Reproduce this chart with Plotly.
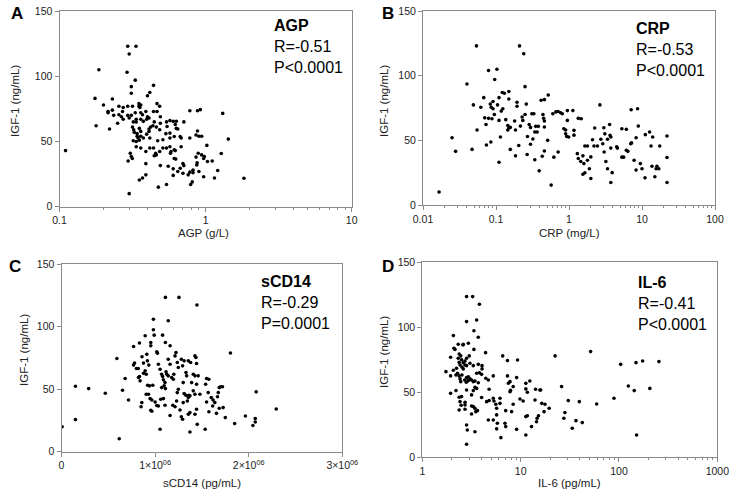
import plotly.graph_objects as go

W, H = 732, 496

# (AGP g/L, IGF-1 ng/mL)
agp_pts = [
    (0.11, 43), (0.186, 105), (0.293, 123), (0.334, 123), (0.30, 117), (0.29, 103), (0.33, 97), (0.31, 92),
    (0.31, 87), (0.44, 93), (0.415, 87.5), (0.40, 85), (0.175, 83), (0.23, 82.5), (0.20, 78), (0.23, 74),
    (0.255, 77), (0.273, 76), (0.293, 77), (0.316, 77), (0.35, 79), (0.36, 78), (0.35, 77), (0.355, 76),
    (0.465, 79), (0.485, 77), (0.215, 73), (0.215, 72), (0.235, 70), (0.255, 70.5), (0.27, 73), (0.265, 69),
    (0.273, 67), (0.293, 70), (0.31, 70), (0.30, 68), (0.33, 72), (0.335, 67), (0.36, 72), (0.37, 70.5),
    (0.39, 73), (0.40, 69), (0.44, 73), (0.465, 73), (0.395, 67), (0.41, 68), (0.49, 69), (0.57, 66),
    (0.63, 65.5), (0.78, 73.5), (0.88, 73.5), (0.92, 74.4), (1.31, 71.5), (0.178, 62), (0.22, 59.5), (0.25, 64),
    (0.32, 65), (0.335, 65), (0.36, 67), (0.375, 65.4), (0.316, 61), (0.322, 59), (0.325, 57), (0.352, 60),
    (0.36, 57.7), (0.34, 56), (0.41, 59.5), (0.41, 57.7), (0.42, 61), (0.436, 62), (0.46, 61), (0.485, 59),
    (0.445, 65), (0.49, 64), (0.54, 65), (0.545, 61.5), (0.60, 65.4), (0.63, 60), (0.645, 59.5), (0.62, 63),
    (0.71, 65), (0.34, 54), (0.345, 52.6), (0.36, 54), (0.375, 52.6), (0.395, 55.6), (0.32, 50.5), (0.335, 50),
    (0.352, 51), (0.415, 52.6), (0.47, 50.5), (0.51, 51.3), (0.535, 56), (0.57, 56.4), (0.57, 52.6), (0.61, 53.8),
    (0.67, 53.8), (0.68, 52.6), (0.78, 52.6), (0.88, 58), (0.90, 54), (0.94, 54), (0.86, 55), (0.335, 46),
    (0.36, 45), (0.39, 42.3), (0.415, 45), (0.44, 45), (0.455, 41), (0.485, 42.3), (0.51, 45), (0.54, 45),
    (0.57, 46), (0.58, 42.3), (0.61, 43.6), (0.68, 46), (0.575, 41), (0.62, 43), (0.445, 39), (0.46, 39.7),
    (0.305, 41), (0.31, 38.5), (0.315, 37), (0.295, 35), (0.61, 37), (0.625, 36.5), (0.39, 33), (0.49, 31.5),
    (0.555, 31), (0.60, 29), (0.70, 33), (0.71, 31.5), (0.70, 25.6), (0.76, 24.4), (0.78, 26.5), (0.60, 24),
    (0.645, 27), (0.67, 29.5), (0.86, 38), (0.89, 41), (0.94, 39.7), (0.98, 38.5), (1.02, 47), (0.97, 37),
    (0.875, 33.6), (0.87, 32), (0.82, 28), (0.82, 26), (0.90, 27), (0.97, 23), (1.03, 34.6), (1.11, 35),
    (1.15, 22), (1.21, 27.7), (1.28, 40.8), (1.43, 51.8), (1.83, 21.8), (0.352, 20.5), (0.37, 22), (0.39, 24.4),
    (0.475, 15), (0.54, 17), (0.79, 17), (0.81, 19), (0.30, 10),
]

# (CRP mg/L, IGF-1 ng/mL)
crp_pts = [
    (0.0166, 10), (0.025, 52), (0.028, 41.5), (0.04, 93.6), (0.047, 43), (0.049, 77.4), (0.055, 58), (0.054, 123),
    (0.062, 75.6), (0.068, 83), (0.07, 67.4), (0.073, 62.3), (0.074, 46.4), (0.079, 67), (0.079, 104), (0.0836, 78),
    (0.086, 75.6), (0.091, 80), (0.085, 48.7), (0.088, 66.7), (0.091, 74.4), (0.095, 70), (0.096, 97), (0.103, 105),
    (0.105, 77.4), (0.11, 83), (0.11, 65.4), (0.115, 52.6), (0.11, 33), (0.118, 72.6), (0.124, 74.4), (0.122, 87),
    (0.13, 86.4), (0.136, 66), (0.145, 61.5), (0.15, 59.5), (0.15, 82), (0.15, 87.7), (0.145, 58), (0.157, 60),
    (0.157, 43), (0.18, 65), (0.185, 58), (0.194, 79.5), (0.194, 76.4), (0.185, 38), (0.205, 46), (0.21, 123),
    (0.228, 68), (0.233, 65.4), (0.216, 61), (0.24, 117), (0.25, 91.5), (0.25, 70), (0.26, 78), (0.267, 39),
    (0.27, 53), (0.285, 62.3), (0.297, 60), (0.31, 70.5), (0.297, 47), (0.32, 51), (0.34, 35), (0.33, 70.5),
    (0.35, 60.8), (0.366, 56.4), (0.34, 56.4), (0.38, 60.8), (0.39, 26.4), (0.415, 81), (0.44, 70), (0.45, 67),
    (0.46, 65), (0.46, 60.3), (0.46, 81.5), (0.52, 85), (0.43, 37.7), (0.46, 41.8), (0.51, 50), (0.57, 15.4),
    (0.62, 37), (0.71, 41), (0.60, 70.5), (0.66, 72), (0.71, 72.3), (0.77, 71.3), (0.81, 70.5), (0.85, 59),
    (0.90, 58), (0.95, 65.4), (0.95, 73), (0.90, 55), (0.93, 53), (0.99, 52.6), (1.13, 73), (1.17, 57.7),
    (1.17, 54), (1.34, 67), (1.47, 66.7), (1.3, 39.7), (1.34, 36), (1.45, 33.6), (1.55, 38), (1.55, 23.8),
    (1.65, 24.9), (1.6, 32), (1.79, 34.6), (1.99, 37.2), (1.65, 45.6), (1.79, 45.6), (1.9, 28), (1.99, 20.5),
    (2.1, 50.5), (2.2, 45.6), (2.25, 59.5), (2.45, 45.6), (2.65, 77.4), (2.73, 50.8), (2.9, 47.4), (3.0, 59.7),
    (3.03, 41), (3.1, 55), (3.2, 33.6), (3.37, 28), (3.37, 50.8), (3.6, 62.3), (3.65, 53.8), (3.74, 52.6),
    (3.74, 44), (3.74, 17.4), (3.9, 25), (4.5, 45), (4.6, 44), (5.3, 59), (5.3, 37), (5.6, 37),
    (6.1, 58.5), (6.1, 42.3), (6.4, 41.5), (7.0, 47.4), (7.1, 73.6), (7.2, 48), (7.8, 34.6), (8.3, 52),
    (8.3, 27), (8.7, 74.4), (8.9, 61), (9.5, 32), (10, 28), (11, 21), (11.1, 54.4), (12.7, 56.4),
    (14, 52.6), (13.3, 45.6), (13.7, 30), (15, 21.8), (15.6, 28), (16, 30), (17, 28), (17.5, 45.6),
    (22, 53.3), (22, 36.7), (22, 17.4),
]

# (sCD14 in 10^6 pg/mL, IGF-1 ng/mL)
scd14_pts = [
    (0.007, 20), (0.149, 52.4), (0.149, 25.7), (0.29, 50.5), (0.468, 46.8), (0.592, 74.6), (0.617, 10.4), (0.652, 49.2),
    (0.68, 58.6), (0.716, 41.4), (0.77, 84.2), (0.833, 87), (0.78, 70.9), (0.77, 69.3), (0.80, 66.6), (0.82, 66.6),
    (0.833, 60.2), (0.86, 76), (0.876, 70.9), (0.894, 64.7), (0.905, 62), (0.876, 62.8), (0.911, 78), (0.918, 72.7),
    (0.933, 69.3), (0.954, 87.4), (0.954, 84.8), (0.894, 92.8), (0.982, 106), (0.982, 97.6), (0.99, 93.3), (0.92, 53.2),
    (0.94, 52.7), (0.975, 53.2), (0.84, 56.7), (0.823, 59.4), (0.905, 46), (0.93, 46), (0.947, 42.5), (0.965, 41.4),
    (0.858, 39.3), (0.85, 36), (0.954, 33.2), (0.965, 32.4), (1.0, 39.8), (1.018, 37), (1.035, 36.6), (1.018, 80),
    (1.025, 78.9), (1.035, 70), (1.053, 66), (1.08, 93.3), (1.11, 123.5), (1.11, 87.4), (1.07, 62), (1.08, 60.2),
    (1.089, 57.5), (1.106, 55.3), (1.117, 63.9), (1.07, 51.3), (1.096, 52.7), (1.11, 50.5), (1.06, 42), (1.089, 42.5),
    (1.106, 37.2), (1.053, 18), (1.16, 29), (1.14, 104.8), (1.16, 84.8), (1.14, 74), (1.16, 70), (1.124, 62),
    (1.14, 60.7), (1.177, 59.4), (1.195, 58), (1.2, 62), (1.19, 37.2), (1.213, 36), (1.23, 40.6), (1.248, 50),
    (1.237, 47.3), (1.223, 79.4), (1.213, 76.7), (1.237, 71.4), (1.248, 67.4), (1.255, 123.5), (1.266, 33.4), (1.28, 28),
    (1.294, 26), (1.28, 74), (1.31, 72.7), (1.294, 68.7), (1.33, 63.4), (1.337, 60.7), (1.30, 55.3), (1.31, 46.5),
    (1.33, 45.2), (1.355, 43.3), (1.344, 40.6), (1.30, 39.3), (1.372, 15.8), (1.355, 72.7), (1.38, 71.4), (1.408, 62),
    (1.426, 76.7), (1.436, 75.4), (1.443, 70.6), (1.39, 55.3), (1.426, 60.7), (1.443, 54), (1.46, 60.7), (1.408, 48.7),
    (1.426, 46), (1.372, 44.7), (1.36, 45.2), (1.355, 30), (1.372, 31.3), (1.426, 30), (1.443, 34), (1.45, 21.9),
    (1.535, 18), (1.447, 117.4), (1.479, 46), (1.55, 58.6), (1.574, 58), (1.54, 54), (1.567, 47.3), (1.55, 39.8),
    (1.575, 32), (1.6, 43.3), (1.62, 41.4), (1.638, 39.3), (1.615, 36.6), (1.656, 30.7), (1.685, 34.8), (1.685, 51.3),
    (1.667, 44), (1.675, 47.3), (1.70, 52), (1.72, 52), (1.727, 35.3), (1.75, 27.3), (1.805, 79), (1.85, 22.5),
    (1.965, 28.6), (2.045, 21), (2.07, 26.5), (2.07, 23.8), (2.08, 47.9), (2.294, 34.2),
]

# (IL-6 pg/mL, IGF-1 ng/mL)
il6_pts = [
    (2.82, 123.6), (3.25, 123.6), (3.81, 117.7), (2.82, 104.4), (3.57, 105.6), (3.35, 97.4), (2.07, 93.6), (3.71, 92.3),
    (2.1, 83.8), (2.15, 83), (2.32, 87), (2.59, 86.4), (2.61, 87), (2.94, 87.7), (3.35, 83), (4.4, 80.5),
    (1.94, 77), (2.37, 79.5), (2.46, 78), (2.32, 76.2), (2.82, 76.2), (3.0, 78), (2.51, 75), (2.72, 74),
    (2.61, 72.8), (2.37, 73), (1.74, 65.9), (2.07, 67), (2.23, 68.5), (2.42, 71), (2.53, 69.5), (2.61, 68),
    (2.72, 71), (2.82, 70.5), (3.05, 72.3), (3.3, 70.5), (3.71, 71.5), (4.05, 70.5), (4.05, 68), (3.81, 65),
    (4.01, 63.8), (3.57, 64.6), (1.94, 62.6), (2.2, 63.3), (2.28, 64.6), (2.37, 62.6), (2.53, 63.3), (2.42, 60.3),
    (2.46, 58.2), (2.7, 59.5), (2.82, 61.3), (2.94, 62), (3.05, 60.3), (2.8, 57.7), (2.94, 59), (3.17, 59.5),
    (3.3, 58.2), (3.43, 58.7), (3.71, 57.4), (4.42, 60.8), (4.69, 59.5), (5.27, 62.6), (4.78, 52.3), (6.57, 78),
    (7.35, 74.4), (9.3, 74.9), (7.35, 62.6), (7.8, 58.2), (7.5, 57), (9.1, 61.3), (7.9, 51.5), (7.8, 50.5),
    (8.4, 54.4), (1.94, 49.2), (2.2, 51.3), (2.82, 51.8), (3.3, 51.3), (3.43, 53.8), (3.57, 53), (2.37, 46.2),
    (2.51, 46.7), (2.42, 42.8), (2.72, 42.3), (3.17, 48), (2.37, 36.4), (2.72, 37), (3.17, 39.5), (3.3, 39),
    (3.43, 37.7), (3.17, 33.3), (3.5, 35.1), (3.64, 35.9), (4.01, 46), (4.51, 42.8), (4.78, 43.6), (5.27, 45.4),
    (5.35, 43.3), (5.6, 40.8), (5.7, 37.7), (6.17, 45.4), (6.17, 41.5), (4.69, 28.7), (5.27, 28.7), (5.7, 32.6),
    (5.8, 26.2), (6.93, 26.2), (7.05, 23.6), (5.7, 21.9), (6.3, 15.1), (7.05, 35.9), (8.1, 35.1), (8.4, 40.8),
    (9.1, 21.5), (9.85, 44.9), (10.6, 43.3), (11.3, 56.9), (11.3, 52.6), (11.7, 50), (12.4, 58.7), (11.3, 31.3),
    (11.7, 32), (12.9, 23.6), (14.5, 27.4), (14.7, 30), (15.2, 32), (15.7, 51.8), (16, 51.8), (16.4, 41.5),
    (17.3, 35.1), (17.7, 40.8), (19.5, 37.7), (14.2, 52.3), (14, 44.1), (11.3, 17.2), (2.82, 24.9), (2.87, 21),
    (3.43, 19.7), (2.82, 10), (2.72, 40.3), (2.48, 40), (22.4, 78), (26.1, 54.4), (30.5, 43.6), (28.2, 34.4),
    (27.5, 30), (33.5, 22.3), (36.5, 28.2), (42.4, 26.7), (39.5, 42.8), (51.5, 81.3), (59.3, 41), (89, 45.4),
    (104, 71.5), (124.5, 54.9), (143, 51.3), (149, 72.8), (174, 74.1), (151, 17.2), (206, 53), (255, 73.6),
]

y_ticks = [0, 50, 100, 150]
scd14_ticks = [0, 1e6, 2e6, 3e6]
scd14_ticktext = ["0", "1×10<sup>06</sup>", "2×10<sup>06</sup>", "3×10<sup>06</sup>"]

GREY = "#8a8a8a"
FONT = "Liberation Sans, Arial, sans-serif"


# page pixel -> paper fraction
def px(x):
    return x / W


def py(y):
    return 1 - y / H


def minor_vals(lo, hi):
    return [m * 10 ** e for e in range(lo, hi) for m in range(2, 10)]


def log_ticks(lo, hi):
    vals = [10 ** e for e in range(lo, hi + 1)]
    text = [("%g" % v) for v in vals]
    return vals, text


fig = go.Figure()
for i, pts in enumerate([agp_pts, crp_pts, [(x * 1e6, y) for x, y in scd14_pts], il6_pts]):
    sfx = "" if i == 0 else str(i + 1)
    fig.add_trace(go.Scatter(
        x=[p[0] for p in pts], y=[p[1] for p in pts], mode="markers",
        marker=dict(color="black", size=3.6), xaxis="x" + sfx, yaxis="y" + sfx,
        showlegend=False, hoverinfo="x+y",
    ))

common = dict(showline=True, linecolor=GREY, linewidth=1, mirror=True, ticks="outside",
              ticklen=4, tickcolor=GREY, showgrid=False, zeroline=False, automargin=False,
              ticklabeloverflow="allow", tickfont=dict(size=10.5, color="#222", family=FONT))

# plot boxes in page pixels: (x0, x1, ytop, ybottom)
boxes = [(59.5, 351.7, 11, 206.7), (423, 715, 11, 205), (61.5, 342.3, 264.3, 451.7), (422.3, 717.3, 262.3, 457.3)]
log_ranges = [(-1, 1), (-2, 2), None, (0, 3)]

layout = {}
for i, (x0, x1, yt, yb) in enumerate(boxes):
    sfx = "" if i == 0 else str(i + 1)
    xa = dict(common, domain=[px(x0), px(x1)], anchor="y" + sfx)
    lr = log_ranges[i]
    if lr:
        vals, text = log_ticks(*lr)
        xa.update(type="log", range=list(lr), tickmode="array", tickvals=vals, ticktext=text,
                  minor=dict(ticks="outside", ticklen=2, tickcolor=GREY, tickmode="array",
                             tickvals=minor_vals(*lr), showgrid=False))
    else:
        xa.update(range=[0, 3e6], tickmode="array", tickvals=scd14_ticks, ticktext=scd14_ticktext)
    ya = dict(common, domain=[py(yb), py(yt)], anchor="x" + sfx, range=[0, 150],
              tickmode="array", tickvals=y_ticks)
    layout["xaxis" + sfx] = xa
    layout["yaxis" + sfx] = ya

ann = []
centred = dict(xref="paper", yref="paper", showarrow=False, xanchor="center", yanchor="middle")

letters = [("A", 17, 14), ("B", 388, 14), ("C", 15, 266), ("D", 388, 266)]
for t, x, y in letters:
    ann.append(dict(centred, text="<b>%s</b>" % t, x=px(x), y=py(y),
                    font=dict(size=17, color="black", family=FONT)))

stats = [("AGP", "R=-0.51", "P&lt;0.0001", 272, 15),
         ("CRP", "R=-0.53", "P&lt;0.0001", 633.5, 18),
         ("sCD14", "R=-0.29", "P=0.0001", 259, 271),
         ("IL-6", "R=-0.41", "P&lt;0.0001", 636, 272)]
for name, r, p, x, y in stats:
    ann.append(dict(text="<b>%s</b><br>%s<br>%s" % (name, r, p), x=px(x), y=py(y),
                    xref="paper", yref="paper", xanchor="left", yanchor="top", align="left",
                    showarrow=False, font=dict(size=16, color="black", family=FONT)))

xtitles = [("AGP (g/L)", 204, 233), ("CRP (mg/L)", 569, 233),
           ("sCD14 (pg/mL)", 202, 483), ("IL-6 (pg/mL)", 569, 483)]
for t, x, y in xtitles:
    ann.append(dict(centred, text=t, x=px(x), y=py(y),
                    font=dict(size=11.5, color="#222", family=FONT)))

ytitles = [(15, 101), (384, 101), (24, 350), (384, 352)]
for x, y in ytitles:
    ann.append(dict(centred, text="IGF-1 (ng/mL)", x=px(x), y=py(y), textangle=-90,
                    font=dict(size=11.5, color="#222", family=FONT)))

fig.update_layout(**layout)
fig.update_layout(
    width=W, height=H, margin=dict(l=0, r=0, t=0, b=0),
    paper_bgcolor="white", plot_bgcolor="white",
    font=dict(family=FONT), annotations=ann,
)

# drop the browser's default 8px body margin so the figure sits at the window corner
fig.write_html("out.html", config={"displayModeBar": False},
               post_script="document.body.style.margin='0';")
